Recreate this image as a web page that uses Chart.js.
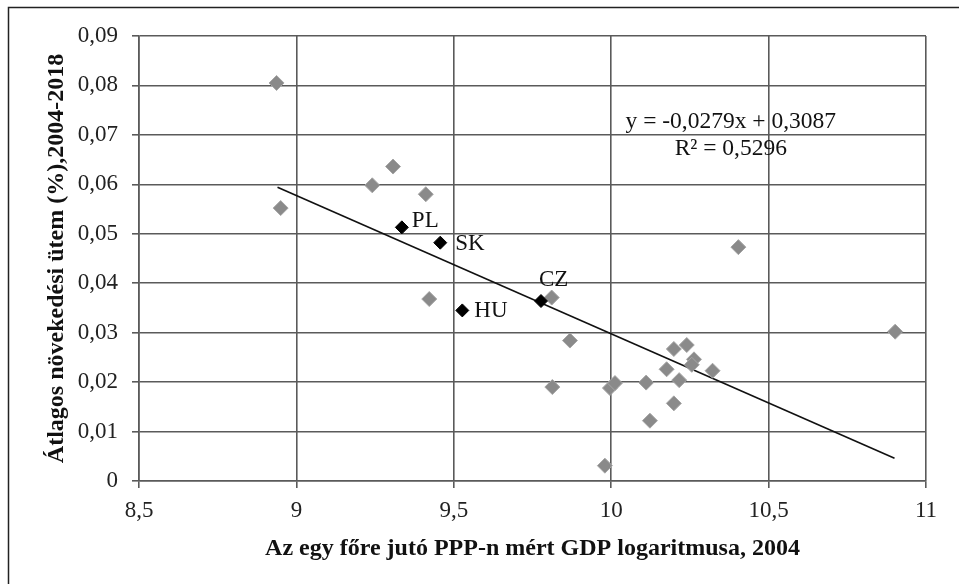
<!DOCTYPE html>
<html><head><meta charset="utf-8">
<script src="https://cdn.jsdelivr.net/npm/chart.js@4/dist/chart.umd.min.js"></script>
<style>html,body{margin:0;padding:0;background:#fff;}#wrap{width:959px;height:584px;position:relative;}</style>
</head><body><div id="wrap"><canvas id="c" width="959" height="584"></canvas></div>
<script>
// Other countries
const otherX = [8.937, 8.950, 9.241, 9.307, 9.411, 9.422, 9.811, 9.869, 9.813, 9.996, 10.012, 10.111, 10.123, 9.980, 10.199, 10.240, 10.176, 10.263, 10.256, 10.216, 10.199, 10.322, 10.404, 10.902];
const otherY = [0.0805, 0.0552, 0.0598, 0.0636, 0.0580, 0.0368, 0.0371, 0.0284, 0.0190, 0.0188, 0.0198, 0.0199, 0.0122, 0.0031, 0.0267, 0.0275, 0.0226, 0.0246, 0.0235, 0.0204, 0.0157, 0.0223, 0.0473, 0.0302];
// Highlighted V4 countries
const v4Labels = ['PL', 'SK', 'HU', 'CZ'];
const v4X = [9.335, 9.457, 9.527, 9.777];
const v4Y = [0.0513, 0.0482, 0.0345, 0.0364];
// Linear trend line endpoints (as drawn)
const trendX = [8.94, 10.90];
const trendY = [0.0594, 0.0046];
const trendText = ['y = -0,0279x + 0,3087', 'R² = 0,5296'];
// Axes
const xTicks = [8.5, 9, 9.5, 10, 10.5, 11];
const yTicks = [0, 0.01, 0.02, 0.03, 0.04, 0.05, 0.06, 0.07, 0.08, 0.09];
const xTitle = 'Az egy főre jutó PPP-n mért GDP logaritmusa, 2004';
const yTitle = 'Átlagos növekedési ütem (%),2004-2018';

const FONT = '"Liberation Serif", "DejaVu Serif", serif';
const fmt = v => String(Math.round(v * 100) / 100).replace('.', ',');

const decor = {
  id: 'decor',
  beforeDraw(chart) {
    const ctx = chart.ctx;
    ctx.save();
    ctx.strokeStyle = '#222';
    ctx.lineWidth = 1.5;
    ctx.beginPath();
    ctx.moveTo(8.5, 584); ctx.lineTo(8.5, 7.5); ctx.lineTo(959, 7.5);
    ctx.stroke();
    ctx.restore();
  },
  afterDatasetsDraw(chart) {
    const ctx = chart.ctx, xs = chart.scales.x, ys = chart.scales.y;
    ctx.save();
    ctx.fillStyle = '#111';
    ctx.font = '23px ' + FONT;
    ctx.textBaseline = 'middle';
    const off = [[10, -6], [15, 1], [12, 1], [-2, -21]];
    v4Labels.forEach((l, i) => {
      ctx.textAlign = 'left';
      ctx.fillText(l, xs.getPixelForValue(v4X[i]) + off[i][0], ys.getPixelForValue(v4Y[i]) + off[i][1]);
    });
    ctx.textAlign = 'center';
    ctx.font = '23.5px ' + FONT;
    ctx.fillText(trendText[0], xs.getPixelForValue(10.38), ys.getPixelForValue(0.0727));
    ctx.fillText(trendText[1], xs.getPixelForValue(10.38), ys.getPixelForValue(0.0672));
    ctx.restore();
  }
};

new Chart(document.getElementById('c'), {
  type: 'scatter',
  data: {
    datasets: [
      {
        type: 'line',
        data: trendX.map((x, i) => ({x, y: trendY[i]})),
        borderColor: '#111', borderWidth: 1.6, pointRadius: 0, fill: false, order: 3
      },
      {
        data: otherX.map((x, i) => ({x, y: otherY[i]})),
        pointStyle: 'rectRot', pointRadius: 7.5,
        backgroundColor: '#8a8a8a', borderColor: '#a5a5a5', borderWidth: 1, order: 2
      },
      {
        data: v4X.map((x, i) => ({x, y: v4Y[i]})),
        pointStyle: 'rectRot', pointRadius: 6.5,
        backgroundColor: '#000', borderColor: '#000', borderWidth: 1, order: 1
      }
    ]
  },
  options: {
    responsive: false, animation: false,
    layout: { padding: { left: 0, top: 36, right: 33, bottom: 0 } },
    plugins: { legend: { display: false }, tooltip: { enabled: false } },
    scales: {
      x: {
        type: 'linear', min: 8.5, max: 11,
        afterBuildTicks: s => { s.ticks = xTicks.map(v => ({value: v})); },
        afterFit: s => { s.height = 103; },
        grid: { color: '#5a5a5a', lineWidth: 1.6, tickLength: 7, drawTicks: true },
        border: { color: '#5a5a5a', width: 1.6 },
        ticks: { font: { family: FONT, size: 23 }, color: '#222', padding: 9, callback: v => fmt(v), maxRotation: 0 },
        title: { display: true, text: xTitle, font: { family: FONT, size: 24, weight: 'bold' }, color: '#111', padding: { top: 0, bottom: 21 } }
      },
      y: {
        type: 'linear', min: 0, max: 0.09,
        afterBuildTicks: s => { s.ticks = yTicks.map(v => ({value: v})); },
        afterFit: s => { s.width = 139; },
        grid: { color: '#5a5a5a', lineWidth: 1.6, tickLength: 7, drawTicks: true },
        border: { color: '#5a5a5a', width: 1.6 },
        ticks: { font: { family: FONT, size: 23 }, color: '#222', padding: 14, callback: v => fmt(v) },
        title: { display: true, text: yTitle, font: { family: FONT, size: 24, weight: 'bold' }, color: '#111', padding: { top: 42, bottom: 0 } }
      }
    }
  },
  plugins: [decor]
});
</script></body></html>
